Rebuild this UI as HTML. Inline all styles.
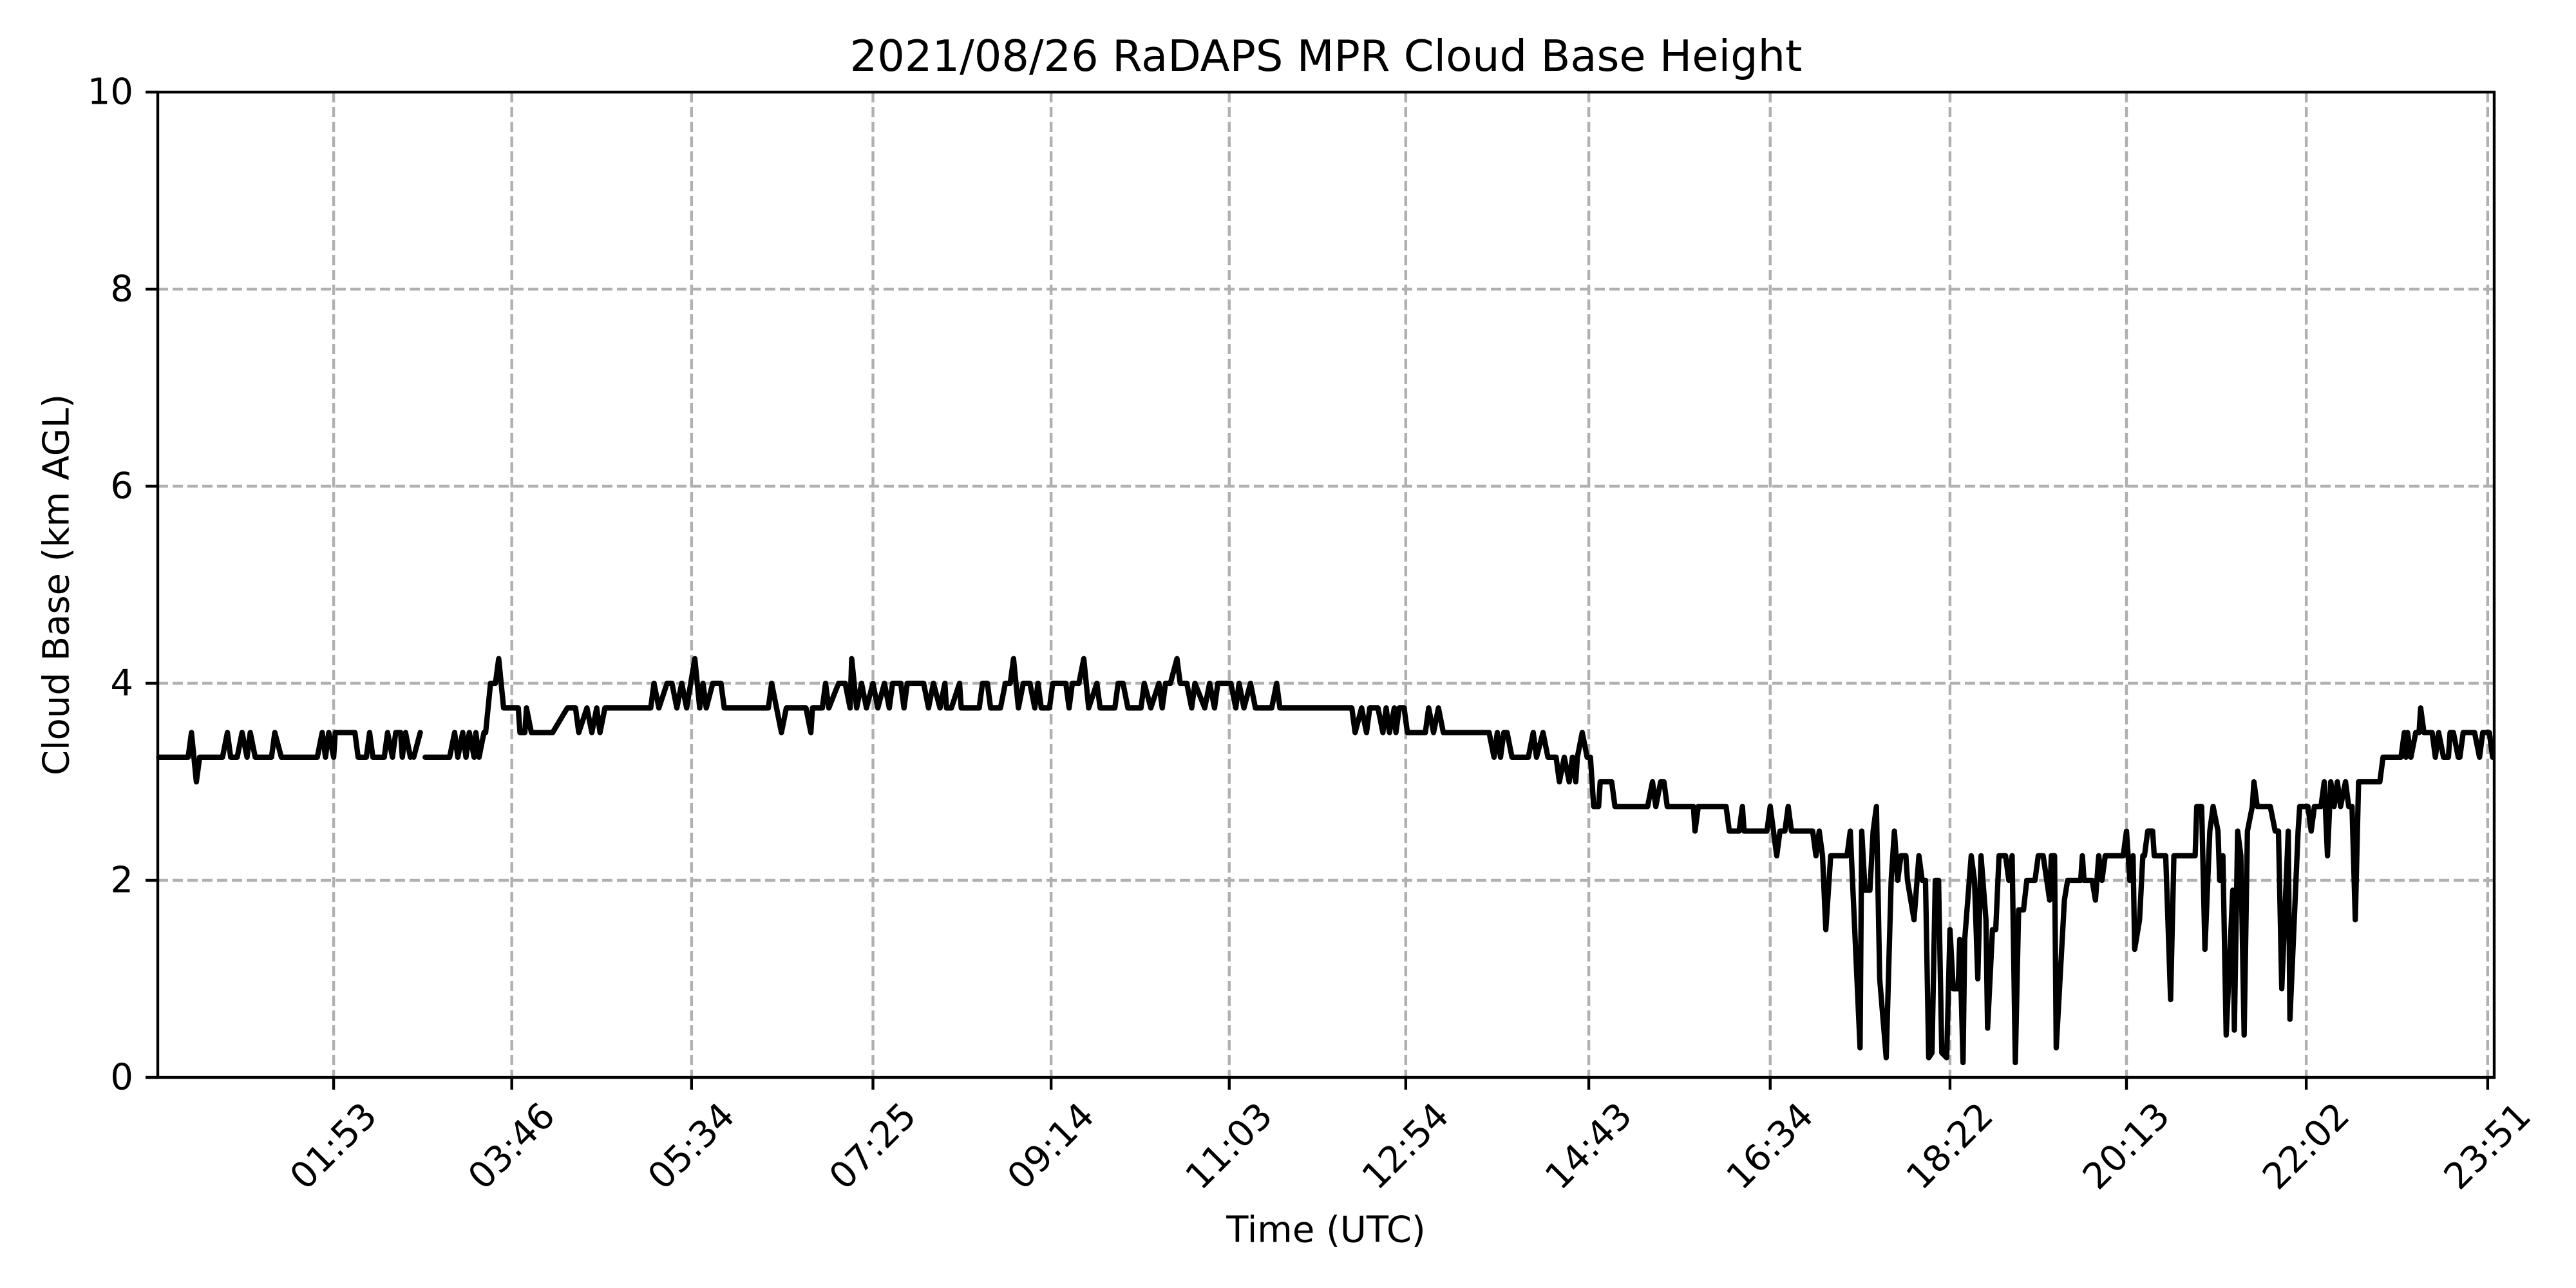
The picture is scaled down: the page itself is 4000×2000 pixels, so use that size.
<!DOCTYPE html>
<html><head><meta charset="utf-8"><title>Cloud Base Height</title>
<style>html,body{margin:0;padding:0;background:#fff;}svg{display:block;}text{font-family:"DejaVu Sans","Liberation Sans",sans-serif;fill:#000;}</style>
</head><body>
<svg id="chart" xmlns="http://www.w3.org/2000/svg" width="4000" height="2000" viewBox="0 0 4000 2000">
<rect x="0" y="0" width="4000" height="2000" fill="#fff"/>
<g id="grid"></g>
<g id="series"></g>
<g id="axes"></g>
<text x="2059" y="87" font-size="67" text-anchor="middle" dominant-baseline="central">2021/08/26 RaDAPS MPR Cloud Base Height</text>
<text x="2059" y="1910" font-size="56" text-anchor="middle" dominant-baseline="central">Time (UTC)</text>
<text x="0" y="0" font-size="56" text-anchor="middle" dominant-baseline="central" transform="translate(88,908) rotate(-90)">Cloud Base (km AGL)</text>
</svg>
<script>
const xTickMinutes = [113,222,332,443,552,661,769,881,992,1102,1210,1320,1431];
const xTickLabels = ["01:53","03:46","05:34","07:25","09:14","11:03","12:54","14:43","16:34","18:22","20:13","22:02","23:51"];
const yTickValues = [0,2,4,6,8,10];
const yTickLabels = ["0","2","4","6","8","10"];
const times = [6,24,26,29,31,45,48,50,54,57,60,62,65,75,77,81,103,106,108,110,113,114,126,128,133,135,137,144,146,149,151,154,155,157,160,161,162,166,167,
169,184,187,189,192,194,196,199,200,202,205,206,209,212,214,217,226,227,230,231,234,247,
256,261,263,268,271,274,276,279,307,309,312,317,320,323,326,329,334,337,339,341,345,350,352,379,381,384,387,390,402,405,406,412,414,416,422,426,429,430,433,436,439,443,446,450,453,455,460,462,464,474,477,480,484,487,
488,491,496,497,508,510,513,515,521,524,527,529,532,535,539,542,544,546,551,553,561,563,565,569,572,575,580,582,591,593,596,599,607,609,613,618,620,622,625,629,631,635,638,640,646,649,652,654,662,665,667,670,674,677,687,690,692,
736,738,742,745,747,752,755,757,759,762,763,765,768,770,781,783,786,789,792,820,823,825,827,829,831,834,844,847,849,853,856,861,863,866,869,871,873,874,877,880,882,884,887,888,895,897,917,920,922,925,927,929,945,946,948,965,967,
973,975,976,990,992,996,998,1001,1003,1005,1018,1020,1022,1024,1026,1029,1039,1041,1047,1048,1050,1053,1055,1057,1059,1063,1066,1068,1070,1072,1075,1076,1080,1083,1085,1087,1089,1091,1093,1095,1097,1100,1102,1104,1107,1108,1110,1111,1115,1117,1119,1121,1124,1125,1128,1130,1132,1136,1138,1140,1142,1144,1147,1149,1154,1156,1159,1163,1164,1166,1167,1172,1174,1182,1183,1184,1189,1191,1193,1195,1197,1207,
1208,1210,1212,1214,1215,1218,1220,1221,1223,1226,1227,1234,1237,1239,1252,1253,1256,1258,1261,1263,1266,1267,1269,1271,1275,1276,1278,1280,1282,1284,1287,1288,1290,1298,1301,1303,1305,1309,1310,1315,1316,1321,1323,1325,1329,1331,1333,1335,1337,1339,1341,1344,1346,1348,1350,1352,1365,1367,1378,1380,1381,1382,1384,1387,1389,1390,1392,1397,1399,1401,1404,1407,1408,1410,1413,1414,1416,1423,1426,1428,1432,1434];
const heights = [3.25,3.25,3.5,3.0,3.25,3.25,3.5,3.25,3.25,3.5,3.25,3.5,3.25,3.25,3.5,3.25,3.25,3.5,3.25,3.5,3.25,3.5,3.5,3.25,3.25,3.5,3.25,3.25,3.5,3.25,3.5,3.5,3.25,3.5,3.25,null,3.25,3.5,null,
3.25,3.25,3.5,3.25,3.5,3.25,3.5,3.25,3.5,3.25,3.5,3.5,4.0,4.0,4.25,3.75,3.75,3.5,3.5,3.75,3.5,3.5,
3.75,3.75,3.5,3.75,3.5,3.75,3.5,3.75,3.75,4.0,3.75,4.0,4.0,3.75,4.0,3.75,4.25,3.75,4.0,3.75,4.0,4.0,3.75,3.75,4.0,3.75,3.5,3.75,3.75,3.5,3.75,3.75,4.0,3.75,4.0,4.0,3.75,4.25,3.75,4.0,3.75,4.0,3.75,4.0,3.75,4.0,4.0,3.75,4.0,4.0,3.75,4.0,3.75,4.0,
3.75,3.75,4.0,3.75,3.75,4.0,4.0,3.75,3.75,4.0,4.0,4.25,3.75,4.0,4.0,3.75,4.0,3.75,3.75,4.0,4.0,3.75,4.0,4.0,4.25,3.75,4.0,3.75,3.75,4.0,4.0,3.75,3.75,4.0,3.75,4.0,3.75,4.0,4.0,4.25,4.0,4.0,3.75,4.0,3.75,4.0,3.75,4.0,4.0,3.75,4.0,3.75,4.0,3.75,3.75,4.0,3.75,
3.75,3.5,3.75,3.5,3.75,3.75,3.5,3.75,3.5,3.75,3.5,3.75,3.75,3.5,3.5,3.75,3.5,3.75,3.5,3.5,3.25,3.5,3.25,3.5,3.5,3.25,3.25,3.5,3.25,3.5,3.25,3.25,3.0,3.25,3.0,3.25,3.0,3.25,3.5,3.25,3.25,2.75,2.75,3.0,3.0,2.75,2.75,3.0,2.75,3.0,3.0,2.75,2.75,2.5,2.75,2.75,2.5,
2.5,2.75,2.5,2.5,2.75,2.25,2.5,2.5,2.75,2.5,2.5,2.25,2.5,2.25,1.5,2.25,2.25,2.5,0.3,2.5,1.9,1.9,2.5,2.75,1.0,0.2,2.0,2.5,2.0,2.25,2.25,2.0,1.6,2.25,2.0,2.0,0.2,0.25,2.0,2.0,0.25,0.2,1.5,0.9,0.9,1.4,0.15,1.4,2.25,2.0,1.0,2.25,1.6,0.5,1.5,1.5,2.25,2.25,2.0,2.25,0.15,1.7,1.7,2.0,2.0,2.25,2.25,1.8,2.25,2.25,0.3,1.8,2.0,2.0,2.25,2.0,2.0,1.8,2.25,2.0,2.25,2.25,
2.25,2.5,2.0,2.25,1.3,1.6,2.25,2.25,2.5,2.5,2.25,2.25,0.79,2.25,2.25,2.75,2.75,1.3,2.5,2.75,2.5,2.0,2.25,0.43,1.9,0.48,2.5,2.25,0.43,2.5,2.75,3.0,2.75,2.75,2.5,2.5,0.9,2.5,0.59,2.5,2.75,2.75,2.5,2.75,2.75,3.0,2.25,3.0,2.75,3.0,2.75,3.0,2.75,2.75,1.6,3.0,3.0,3.25,3.25,3.5,3.25,3.5,3.25,3.5,3.5,3.75,3.5,3.5,3.25,3.5,3.25,3.25,3.5,3.5,3.25,3.25,3.5,3.5,3.25,3.5,3.5,3.25];

const NS = "http://www.w3.org/2000/svg";
const PL = 245, PR = 3873, PT = 143, PB = 1673;
const XMIN = 5.4, XMAX = 1435, YMIN = 0, YMAX = 10;
function xScale(m){ return PL + (m - XMIN) / (XMAX - XMIN) * (PR - PL); }
function yScale(v){ return PB - (v - YMIN) / (YMAX - YMIN) * (PB - PT); }

const grid = document.getElementById('grid');
const axes = document.getElementById('axes');
const series = document.getElementById('series');

yTickValues.forEach((v, i) => {
  const y = yScale(v);
  if (v > YMIN && v < YMAX) {
    const g = document.createElementNS(NS, 'line');
    g.setAttribute('x1', PL); g.setAttribute('x2', PR); g.setAttribute('y1', y); g.setAttribute('y2', y);
    g.setAttribute('stroke', '#b0b0b0'); g.setAttribute('stroke-width', '4.4'); g.setAttribute('stroke-dasharray', '16,7');
    
    
    grid.appendChild(g);
  }
  const t = document.createElementNS(NS, 'line');
  t.setAttribute('x1', PL - 19); t.setAttribute('x2', PL); t.setAttribute('y1', y); t.setAttribute('y2', y);
  t.setAttribute('stroke', '#000'); t.setAttribute('stroke-width', '4.4');
  
  
  axes.appendChild(t);
  const lb = document.createElementNS(NS, 'text');
  lb.setAttribute('x', PL - 38); lb.setAttribute('y', y);
  lb.setAttribute('font-size', '56'); lb.setAttribute('text-anchor', 'end'); lb.setAttribute('dominant-baseline', 'central');
  lb.textContent = yTickLabels[i];
  
  
  axes.appendChild(lb);
});

xTickMinutes.forEach((m, i) => {
  const x = xScale(m);
  const g = document.createElementNS(NS, 'line');
  g.setAttribute('x1', x); g.setAttribute('x2', x); g.setAttribute('y1', PT); g.setAttribute('y2', PB);
  g.setAttribute('stroke', '#b0b0b0'); g.setAttribute('stroke-width', '4.4'); g.setAttribute('stroke-dasharray', '16,7');
  
  
  grid.appendChild(g);
  const t = document.createElementNS(NS, 'line');
  t.setAttribute('x1', x); t.setAttribute('x2', x); t.setAttribute('y1', PB); t.setAttribute('y2', PB + 19);
  t.setAttribute('stroke', '#000'); t.setAttribute('stroke-width', '4.4');
  
  
  axes.appendChild(t);
  const lb = document.createElementNS(NS, 'text');
  lb.setAttribute('x', 0); lb.setAttribute('y', 0);
  lb.setAttribute('font-size', '56'); lb.setAttribute('text-anchor', 'middle'); lb.setAttribute('dominant-baseline', 'central');
  lb.setAttribute('transform', 'translate(' + x + ',1780) rotate(-45)');
  lb.textContent = xTickLabels[i];
  
  
  axes.appendChild(lb);
});

const frame = document.createElementNS(NS, 'rect');
frame.setAttribute('x', PL); frame.setAttribute('y', PT); frame.setAttribute('width', PR - PL); frame.setAttribute('height', PB - PT);
frame.setAttribute('fill', 'none'); frame.setAttribute('stroke', '#000'); frame.setAttribute('stroke-width', '4.4');


axes.appendChild(frame);

let d = '', pen = false;
for (let i = 0; i < times.length; i++) {
  const v = heights[i];
  if (v === null) { pen = false; continue; }
  d += (pen ? 'L' : 'M') + xScale(times[i]).toFixed(1) + ' ' + yScale(v).toFixed(1) + ' ';
  pen = true;
}
const path = document.createElementNS(NS, 'path');
path.setAttribute('d', d);
path.setAttribute('fill', 'none'); path.setAttribute('stroke', '#000'); path.setAttribute('stroke-width', '8.3');
path.setAttribute('stroke-linejoin', 'round'); path.setAttribute('stroke-linecap', 'round');


series.appendChild(path);
</script>
</body></html>
